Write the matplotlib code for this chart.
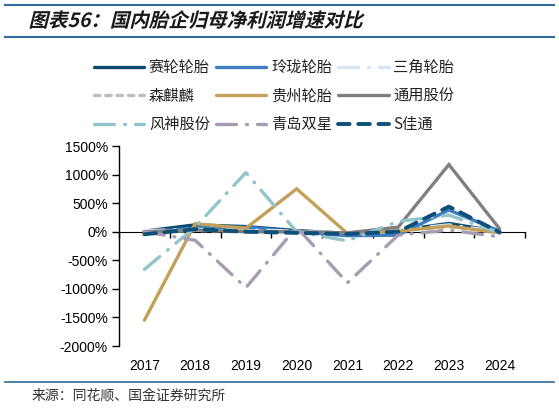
import matplotlib
matplotlib.use("Agg")
import matplotlib.pyplot as plt
from matplotlib.lines import Line2D
from matplotlib.patheffects import AbstractPathEffect
from matplotlib.transforms import Affine2D
import numpy as np

plt.rcParams['font.family'] = ['Liberation Sans', 'Noto Sans CJK SC', 'DejaVu Sans']

years = ['2017', '2018', '2019', '2020', '2021', '2022', '2023', '2024']
names = ['赛轮轮胎', '玲珑轮胎', '三角轮胎', '森麒麟', '贵州轮胎', '通用股份', '风神股份', '青岛双星', 'S佳通']
sailun   = [10, 120, 90, 20, -30, 20, 145, 0]
linglong = [0, 60, 80, 0, -70, -60, 380, 10]
sanjiao  = [20, 40, 30, 10, -20, 30, 120, 0]
senqilin = [0, 20, 10, 0, -20, 20, 90, -20]
guizhou  = [-1550, 140, 60, 750, -30, 10, 100, -20]
tongyong = [0, 30, 0, 0, -20, 80, 1175, 50]
fengshen = [-660, 80, 1035, 0, -160, 180, 290, -20]
shuangxing = [0, -150, -980, 80, -895, -60, 30, -90]
jiatong  = [-45, 45, 0, -20, -40, 0, 440, -10]
yticks = [1500, 1000, 500, 0, -500, -1000, -1500, -2000]

series = [sailun, linglong, sanjiao, senqilin, guizhou, tongyong, fengshen, shuangxing, jiatong]
colors = ['#0D4B6E', '#3F7DC0', '#D5E5F4', '#BDBDBD', '#C4A15B', '#808080', '#92C5CB', '#A89CB2', '#0E5078']
dashdot = (0, (6, 3, 0.3, 3))
styles = ['-', '-', dashdot, (0, (1.6, 1.8)), '-', '-', dashdot, dashdot, (0, (3, 2.2))]
lws = [2.4, 2.4, 2.4, 2.4, 2.4, 2.4, 2.4, 2.4, 2.8]

W, H = 559, 409
fig = plt.figure(figsize=(W / 100, H / 100), dpi=100)
ax = fig.add_axes([119 / W, (H - 346) / H, (525 - 119) / W, 200 / H])

x = np.arange(len(years))
handles = []
for vals, c, s, lw, n in zip(series, colors, styles, lws, names):
    h, = ax.plot(x, vals, color=c, linestyle=s, lw=lw, label=n,
                 solid_capstyle='round', dash_capstyle='round', solid_joinstyle='miter')
    handles.append(h)

ax.set_xlim(-0.5, len(years) - 0.5)
ax.set_ylim(-2000, 1500)
ax.set_yticks(yticks)
ax.set_yticklabels([f'{v}%' for v in yticks])
ax.set_xticks(x)
ax.set_xticklabels(years)
ax.tick_params(axis='x', length=0, pad=9, labelsize=10)
ax.tick_params(axis='y', length=5, width=1, direction='out', labelsize=10, pad=3)
for sp in ['top', 'right', 'bottom']:
    ax.spines[sp].set_visible(False)
ax.spines['left'].set_linewidth(1)

sec = ax.secondary_xaxis(2000 / 3500)
sec.set_xticks(np.arange(-0.5, len(years), 1.0))
sec.set_xticklabels([])
sec.tick_params(direction='in', length=4, width=1)
sec.spines['bottom'].set_linewidth(1)
sec.spines['bottom'].set_color('black')
sec.set_zorder(0.5)

order = [0, 3, 6, 1, 4, 7, 2, 5, 8]
leg = fig.legend([handles[i] for i in order], [names[i] for i in order],
                 loc='center', bbox_to_anchor=(274 / W, 1 - 96 / H), ncol=3,
                 frameon=False, handlelength=3.3, handletextpad=0.3,
                 columnspacing=0.4, labelspacing=0.75,
                 prop={'family': ['Noto Sans CJK SC', 'DejaVu Sans'], 'size': 11})
for t in leg.get_texts():
    t.set_color('#222222')


class Skew(AbstractPathEffect):
    def __init__(self, y0, deg):
        super().__init__()
        self.y0 = y0
        self.deg = deg

    def draw_path(self, renderer, gc, tpath, affine, rgbFace=None):
        t = affine + Affine2D().translate(0, -self.y0).skew_deg(self.deg, 0).translate(0, self.y0)
        renderer.draw_path(gc, tpath, t, rgbFace)


# header / footer
fig.add_artist(Line2D([5 / W, 554 / W], [1 - 5 / H, 1 - 5 / H], color='#2E6D98', lw=1.5))
fig.add_artist(Line2D([5 / W, 554 / W], [1 - 37 / H, 1 - 37 / H], color='#2E6D98', lw=1.5))
fig.add_artist(Line2D([5 / W, 554 / W], [1 - 382 / H, 1 - 382 / H], color='#2E6D98', lw=1.2))
fig.text(30 / W, 1 - 21 / H, '图表56：国内胎企归母净利润增速对比', fontsize=14, fontweight='bold',
         family=['Noto Sans CJK SC', 'DejaVu Sans'], va='center', color='#1A1A1A',
         path_effects=[Skew(H - 21, 14)])
fig.text(32 / W, 1 - 396 / H, '来源：同花顺、国金证券研究所', fontsize=10,
         family=['Noto Sans CJK SC', 'DejaVu Sans'], va='center', color='#333333')

fig.savefig('out.png', dpi=100)
